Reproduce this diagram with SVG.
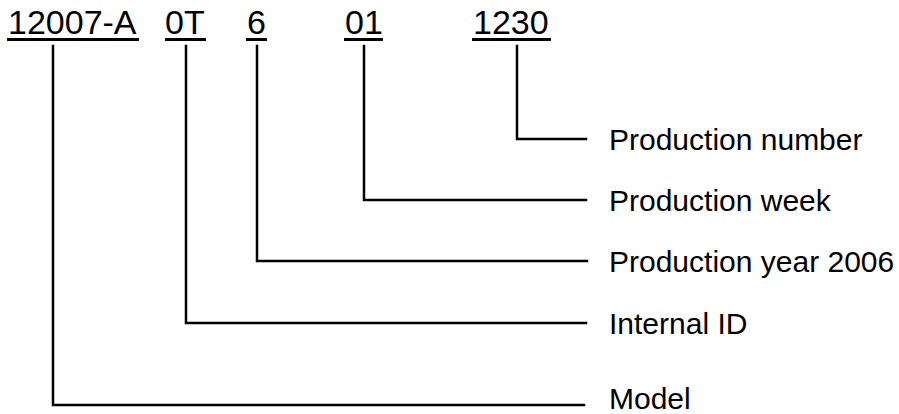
<svg xmlns="http://www.w3.org/2000/svg" width="899" height="414" viewBox="0 0 899 414">
<style>
.t{font-family:"Liberation Sans",Arial,sans-serif;font-size:30px;fill:#000}
.h{font-family:"Liberation Sans",Arial,sans-serif;font-size:34px;fill:#000}
.u{stroke:#000;stroke-width:3;fill:none}
.c{stroke:#000;stroke-width:2.5;fill:none;stroke-linecap:square}
</style>
<rect width="899" height="414" fill="#fff"/>
<g id="code">
<g id="seg-model"><text class="h" x="8" y="33.5">12007-A</text><line class="u" x1="7" y1="39.5" x2="139" y2="39.5"/></g>
<g id="seg-id"><text class="h" x="165" y="33.5">0T</text><line class="u" x1="165" y1="39.5" x2="206" y2="39.5"/></g>
<g id="seg-year"><text class="h" x="247" y="33.5">6</text><line class="u" x1="246" y1="39.5" x2="267" y2="39.5"/></g>
<g id="seg-week"><text class="h" x="345" y="33.5">01</text><line class="u" x1="344" y1="39.5" x2="383" y2="39.5"/></g>
<g id="seg-number"><text class="h" x="473" y="33.5">1230</text><line class="u" x1="472" y1="39.5" x2="551" y2="39.5"/></g>
</g>
<g id="connectors">
<polyline class="c" points="517,46 517,139 586,139"/>
<polyline class="c" points="364,46 364,200 586,200"/>
<polyline class="c" points="257,46 257,261 587,261"/>
<polyline class="c" points="186,46 186,323 586,323"/>
<polyline class="c" points="53,46 53,405 584,405"/>
</g>
<g id="label-number"><text class="t" x="609" y="150">Production number</text></g>
<g id="label-week"><text class="t" x="609" y="211">Production week</text></g>
<g id="label-year"><text class="t" x="609" y="272">Production year 2006</text></g>
<g id="label-id"><text class="t" x="609" y="334">Internal ID</text></g>
<g id="label-model"><text class="t" x="609" y="409">Model</text></g>
</svg>
